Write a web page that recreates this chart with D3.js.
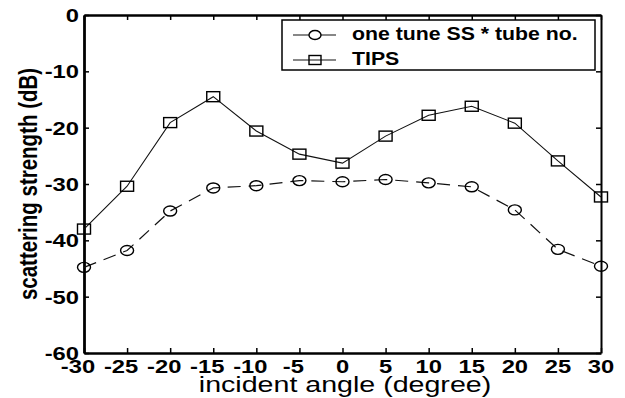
<!DOCTYPE html>
<html>
<head>
<meta charset="utf-8">
<script src="https://cdn.jsdelivr.net/npm/d3@7/dist/d3.min.js"></script>
<style>
  body { margin: 0; background: #fff; }
  svg { display: block; }
  text { font-family: "Liberation Sans", Arial, sans-serif; fill: #000; }
</style>
</head>
<body>
<div id="chart"></div>
<script>
// incident angles (degree)
const angles = [-30, -25, -20, -15, -10, -5, 0, 5, 10, 15, 20, 25, 30];
// TIPS scattering strength (dB)
const tips = [-38, -30.4, -19.1, -14.5, -20.6, -24.7, -26.3, -21.5, -17.8, -16.2, -19.2, -25.9, -32.3];
// one tune SS * tube no. (dB)
const oneTune = [-44.8, -41.8, -34.8, -30.7, -30.3, -29.4, -29.6, -29.2, -29.8, -30.5, -34.6, -41.6, -44.6];

const xTicks = [-30, -25, -20, -15, -10, -5, 0, 5, 10, 15, 20, 25, 30];
const yTicks = [0, -10, -20, -30, -40, -50, -60];
const legendLabels = ['one tune SS * tube no.', 'TIPS'];

const W = 625, H = 398;
const margin = {top: 15, right: 24, bottom: 45, left: 84};
const width = W - margin.left - margin.right,
    height = H - margin.top - margin.bottom;
const sx = 1.25; // the picture is a little stretched sideways

const svg = d3.select('#chart').append('svg')
    .attr('width', W)
    .attr('height', H);

const g = svg.append('g')
    .attr('transform', `translate(${margin.left},${margin.top})`);

const x = d3.scaleLinear().domain([-30, 30]).range([0, width]);
const y = d3.scaleLinear().domain([-60, 0]).range([height, 0]);

// frame with inward ticks on all four sides
function frame(axis, tr, sw) {
    const a = g.append('g')
        .attr('transform', tr)
        .call(axis.tickSizeOuter(0).tickFormat(''));
    a.select('.domain').attr('stroke', '#000').attr('stroke-width', sw);
    a.selectAll('.tick line').attr('stroke', '#000').attr('stroke-width', 1.5);
    return a;
}
frame(d3.axisBottom(x).tickValues(xTicks).tickSize(-5), `translate(0,${height})`, 2.5);
frame(d3.axisTop(x).tickValues(xTicks).tickSize(-5), 'translate(0,0)', 2.5);
frame(d3.axisLeft(y).tickValues(yTicks).tickSize(-5), 'translate(0,0)', 2.8);
frame(d3.axisRight(y).tickValues(yTicks).tickSize(-5), `translate(${width},0)`, 2);

// tick labels
g.selectAll('.xlab')
    .data(xTicks)
    .enter().append('text')
    .attr('transform', d => `translate(${x(d) + (d < 0 ? -6 : 0)},${height + 19.5}) scale(${sx},1)`)
    .attr('text-anchor', 'middle')
    .style('font-size', '19px')
    .style('font-weight', 'bold')
    .text(d => d);

g.selectAll('.ylab')
    .data(yTicks)
    .enter().append('text')
    .attr('transform', d => `translate(-5,${y(d) + 7}) scale(${sx},1)`)
    .attr('text-anchor', 'end')
    .style('font-size', '19px')
    .style('font-weight', 'bold')
    .text(d => d);

// axis titles
svg.append('text')
    .attr('transform', `translate(345,392) scale(1.3,1)`)
    .attr('text-anchor', 'middle')
    .style('font-size', '22px')
    .text('incident angle (degree)');

svg.append('text')
    .attr('transform', `translate(37,184) scale(1.3,1) rotate(-90)`)
    .attr('text-anchor', 'middle')
    .style('font-size', '20.5px')
    .style('font-weight', 'bold')
    .text('scattering strength (dB)');

// series
const line = d3.line()
    .x(d => x(d[0]))
    .y(d => y(d[1]));

const tipsData = angles.map((a, i) => [a, tips[i]]);
const oneData = angles.map((a, i) => [a, oneTune[i]]);

g.append('path')
    .datum(oneData)
    .attr('fill', 'none')
    .attr('stroke', '#111')
    .attr('stroke-width', 1.2)
    .attr('stroke-dasharray', '13,8')
    .attr('d', line);

g.append('path')
    .datum(tipsData)
    .attr('fill', 'none')
    .attr('stroke', '#111')
    .attr('stroke-width', 1.1)
    .attr('d', line);

g.selectAll('.circ')
    .data(oneData)
    .enter().append('ellipse')
    .attr('cx', d => x(d[0]))
    .attr('cy', d => y(d[1]))
    .attr('rx', 6.5)
    .attr('ry', 5)
    .attr('fill', 'none')
    .attr('stroke', '#000')
    .attr('stroke-width', 1.4);

g.selectAll('.sq')
    .data(tipsData)
    .enter().append('rect')
    .attr('x', d => x(d[0]) - 6.5)
    .attr('y', d => y(d[1]) - 5)
    .attr('width', 13)
    .attr('height', 10)
    .attr('fill', 'none')
    .attr('stroke', '#000')
    .attr('stroke-width', 1.4);

// legend
const legend = svg.append('g');
legend.append('rect')
    .attr('x', 282).attr('y', 20)
    .attr('width', 313).attr('height', 50)
    .attr('fill', '#fff')
    .attr('stroke', '#000')
    .attr('stroke-width', 1.5);

const rows = [35, 60];
rows.forEach((ry, i) => {
    legend.append('line')
        .attr('x1', 293).attr('x2', 336)
        .attr('y1', ry).attr('y2', ry)
        .attr('stroke', '#111')
        .attr('stroke-width', 1.2);
    if (i === 0) {
        legend.append('ellipse')
            .attr('cx', 315).attr('cy', ry)
            .attr('rx', 6).attr('ry', 4.5)
            .attr('fill', '#fff').attr('stroke', '#000').attr('stroke-width', 1.4);
    } else {
        legend.append('rect')
            .attr('x', 309).attr('y', ry - 4.5)
            .attr('width', 12).attr('height', 9)
            .attr('fill', 'none').attr('stroke', '#000').attr('stroke-width', 1.4);
    }
    legend.append('text')
        .attr('transform', `translate(352,${ry + 5}) scale(1.12,1)`)
        .style('font-size', '19px')
        .style('font-weight', 'bold')
        .text(legendLabels[i]);
});
</script>
</body>
</html>
